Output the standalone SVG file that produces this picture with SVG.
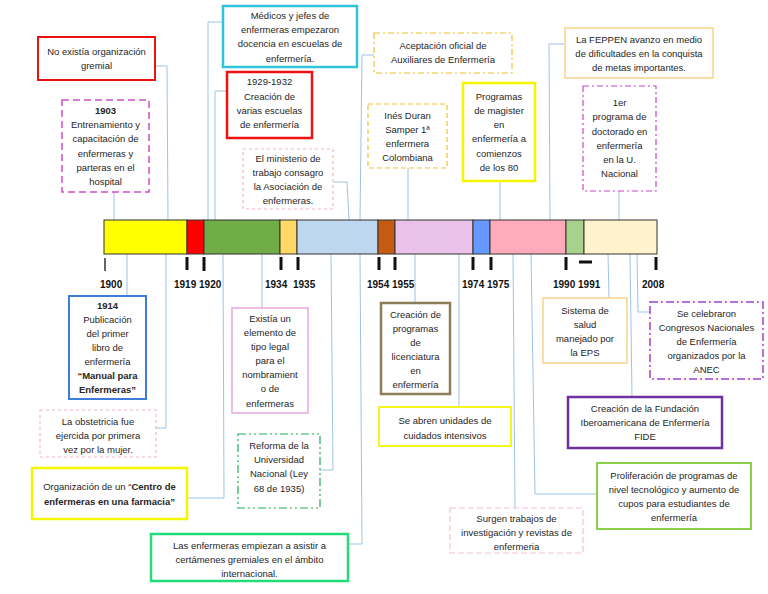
<svg xmlns="http://www.w3.org/2000/svg" width="768" height="594" viewBox="0 0 768 594">
<style>
text{font-family:"Liberation Sans",Arial,sans-serif;font-size:9.5px;fill:#262626;text-anchor:middle}
.b{font-weight:bold}
.yr{font-weight:bold;font-size:10px;fill:#111;text-anchor:start}
.box{fill:#fff}
.con{fill:none;stroke:#9DC3E6;stroke-width:1}
.tick{stroke:#111;stroke-width:3}
.seg{stroke:#333;stroke-width:1}
</style>
<rect width="768" height="594" fill="#fff"/>

<g id="connectors">
<path class="con" d="M114,192V220"/>
<path class="con" d="M155,66H167L168,220"/>
<path class="con" d="M223,22H208V220"/>
<path class="con" d="M227,91H215V220"/>
<path class="con" d="M333,182H347L349,220"/>
<path class="con" d="M374,55H362L360,220"/>
<path class="con" d="M408,168V220"/>
<path class="con" d="M500,181V220"/>
<path class="con" d="M565,44H549L550,220"/>
<path class="con" d="M619,191V220"/>
<path class="con" d="M127,254V296"/>
<path class="con" d="M166,254V428H156"/>
<path class="con" d="M223,254L224,498H187"/>
<path class="con" d="M262,254V308"/>
<path class="con" d="M331,254L333,470H320"/>
<path class="con" d="M360,254L362,544H348"/>
<path class="con" d="M415,254V303"/>
<path class="con" d="M459,254V407"/>
<path class="con" d="M513,254L515,508"/>
<path class="con" d="M531,254L535,494H597"/>
<path class="con" d="M608,254L609,298"/>
<path class="con" d="M630,254L632,397"/>
<path class="con" d="M637,254L638,312H650"/>
</g>

<g id="timeline">
<rect class="seg" x="104" y="220" width="83" height="34" fill="#FFFF00"/>
<rect class="seg" x="187" y="220" width="17" height="34" fill="#FF0000"/>
<rect class="seg" x="204" y="220" width="76" height="34" fill="#70AD47"/>
<rect class="seg" x="280" y="220" width="17" height="34" fill="#FFD966"/>
<rect class="seg" x="297" y="220" width="81" height="34" fill="#BDD7EE"/>
<rect class="seg" x="378" y="220" width="17" height="34" fill="#C55A11"/>
<rect class="seg" x="395" y="220" width="78" height="34" fill="#EAC1E8"/>
<rect class="seg" x="473" y="220" width="17" height="34" fill="#6699FF"/>
<rect class="seg" x="490" y="220" width="76" height="34" fill="#FFABBC"/>
<rect class="seg" x="566" y="220" width="18" height="34" fill="#A9D18E"/>
<rect class="seg" x="584" y="220" width="73" height="34" fill="#FFF2CC"/>
<path stroke="#333" stroke-width="1.5" d="M105,258V271"/>
<path class="tick" d="M187,257V270M204,257V271M281,257V270M298,257V270M379,257V270M395,257V270M473,257V270M491,257V270M566,257V270M656,257V270M579,262H592"/>
<text class="yr" x="100" y="288">1900</text>
<text class="yr" x="174" y="288">1919 1920</text>
<text class="yr" x="265" y="288">1934</text>
<text class="yr" x="293" y="288">1935</text>
<text class="yr" x="367" y="288">1954 1955</text>
<text class="yr" x="462" y="288">1974 1975</text>
<text class="yr" x="553" y="288">1990  1991</text>
<text class="yr" x="642" y="288">2008</text>
</g>

<g id="n1"><rect class="box" x="38" y="37" width="117" height="43" stroke="#EE1111" stroke-width="2"/>
<text x="96.5" y="55">No existía organización</text><text x="96.5" y="69">gremial</text></g>

<g id="n2"><rect class="box" x="62" y="100" width="87" height="92" stroke="#D04FC8" stroke-width="1.5" stroke-dasharray="7,4"/>
<text class="b" x="105.5" y="114">1903</text><text x="105.5" y="128">Entrenamiento y</text><text x="105.5" y="142">capacitación de</text><text x="105.5" y="157">enfermeras y</text><text x="105.5" y="171">parteras en el</text><text x="105.5" y="185">hospital</text></g>

<g id="n3"><rect class="box" x="223" y="6" width="134" height="61" stroke="#2EC4DA" stroke-width="2.5"/>
<text x="290" y="19">Médicos y jefes de</text><text x="290" y="33">enfermeras empezaron</text><text x="290" y="47">docencia en escuelas de</text><text x="290" y="62">enfermería.</text></g>

<g id="n4"><rect class="box" x="227" y="72" width="85" height="66" stroke="#EE1111" stroke-width="2.5"/>
<text x="269.5" y="85">1929-1932</text><text x="269.5" y="100">Creación de</text><text x="269.5" y="114">varias escuelas</text><text x="269.5" y="128">de enfermería</text></g>

<g id="n5"><rect class="box" x="243" y="149" width="90" height="60" stroke="#F4B6C6" stroke-width="1.2" stroke-dasharray="3,3"/>
<text x="288" y="162">El ministerio de</text><text x="288" y="176">trabajo consagro</text><text x="288" y="190">la Asociación de</text><text x="288" y="204">enfermeras.</text></g>

<g id="n6"><rect class="box" x="374" y="33" width="138" height="40" stroke="#F0C030" stroke-width="1.2" stroke-dasharray="6,3,2,3"/>
<text x="443" y="49">Aceptación oficial de</text><text x="443" y="63">Auxiliares de Enfermería</text></g>

<g id="n7"><rect class="box" x="368" y="104" width="79" height="64" stroke="#F0C030" stroke-width="1.2" stroke-dasharray="5,3"/>
<text x="407.5" y="119">Inés Duran</text><text x="407.5" y="133">Samper 1ª</text><text x="407.5" y="147">enfermera</text><text x="407.5" y="161">Colombiana</text></g>

<g id="n8"><rect class="box" x="463" y="83" width="72" height="98" stroke="#F5F500" stroke-width="2.5"/>
<text x="499" y="100">Programas</text><text x="499" y="114">de magister</text><text x="499" y="128">en</text><text x="499" y="142">enfermería a</text><text x="499" y="157">comienzos</text><text x="499" y="171">de los 80</text></g>

<g id="n9"><rect class="box" x="565" y="28" width="148" height="50" stroke="#F9D38A" stroke-width="1.5"/>
<text x="639" y="43">La FEPPEN avanzo en medio</text><text x="639" y="57">de dificultades en la conquista</text><text x="639" y="71">de metas importantes.</text></g>

<g id="n10"><rect class="box" x="583" y="86" width="73" height="105" stroke="#CC44CC" stroke-width="1.2" stroke-dasharray="6,3,2,3"/>
<text x="619.5" y="106">1er</text><text x="619.5" y="120">programa de</text><text x="619.5" y="135">doctorado en</text><text x="619.5" y="149">enfermería</text><text x="619.5" y="163">en la U.</text><text x="619.5" y="177">Nacional</text></g>

<g id="n11"><rect class="box" x="69" y="296" width="77" height="103" stroke="#3B7DD8" stroke-width="2"/>
<text class="b" x="107.5" y="309">1914</text><text x="107.5" y="323">Publicación</text><text x="107.5" y="337">del primer</text><text x="107.5" y="351">libro de</text><text x="107.5" y="365">enfermería</text><text class="b" x="107.5" y="379">“Manual para</text><text class="b" x="107.5" y="393">Enfermeras”</text></g>

<g id="n12"><rect class="box" x="40" y="410" width="116" height="47" stroke="#F4B6C6" stroke-width="1.2" stroke-dasharray="3,3"/>
<text x="98" y="425">La obstetricia fue</text><text x="98" y="439">ejercida por primera</text><text x="98" y="453">vez por la mujer.</text></g>

<g id="n13"><rect class="box" x="32" y="468" width="155" height="51" stroke="#F5F500" stroke-width="2.5"/>
<text x="109.5" y="490">Organización de un “<tspan class="b">Centro de</tspan></text><text class="b" x="109.5" y="505">enfermeras en una farmacia”</text></g>

<g id="n14"><rect class="box" x="232" y="308" width="76" height="105" stroke="#E8A8E0" stroke-width="1.5"/>
<text x="270" y="322">Existía un</text><text x="270" y="336">elemento de</text><text x="270" y="350">tipo legal</text><text x="270" y="364">para el</text><text x="270" y="378">nombramient</text><text x="270" y="392">o de</text><text x="270" y="407">enfermeras</text></g>

<g id="n15"><rect class="box" x="238" y="434" width="82" height="74" stroke="#22AA55" stroke-width="1.2" stroke-dasharray="8,3,2,3,2,3"/>
<text x="279" y="449">Reforma de la</text><text x="279" y="463">Universidad</text><text x="279" y="477">Nacional (Ley</text><text x="279" y="492">68 de 1935)</text></g>

<g id="n16"><rect class="box" x="151" y="534" width="197" height="47" stroke="#22DD77" stroke-width="2.5"/>
<text x="249.5" y="549">Las enfermeras empiezan a asistir a</text><text x="249.5" y="563">certámenes gremiales en el ámbito</text><text x="249.5" y="577">internacional.</text></g>

<g id="n17"><rect class="box" x="381" y="303" width="69" height="91" stroke="#8C7E56" stroke-width="2.5"/>
<text x="415.5" y="318">Creación de</text><text x="415.5" y="332">programas</text><text x="415.5" y="346">de</text><text x="415.5" y="360">licenciatura</text><text x="415.5" y="374">en</text><text x="415.5" y="388">enfermería</text></g>

<g id="n18"><rect class="box" x="379" y="407" width="132" height="39" stroke="#F5F520" stroke-width="2"/>
<text x="445" y="424">Se abren unidades de</text><text x="445" y="439">cuidados intensivos</text></g>

<g id="n19"><rect class="box" x="450" y="508" width="133" height="45" stroke="#F4C0D8" stroke-width="1.2" stroke-dasharray="6,3"/>
<text x="516.5" y="522">Surgen trabajos de</text><text x="516.5" y="536">investigación y revistas de</text><text x="516.5" y="550">enfermeria</text></g>

<g id="n20"><rect class="box" x="597" y="463" width="154" height="66" stroke="#8BD048" stroke-width="2"/>
<text x="674" y="479">Proliferación de programas  de</text><text x="674" y="493">nivel tecnológico y aumento de</text><text x="674" y="507">cupos para estudiantes de</text><text x="674" y="521">enfermería</text></g>

<g id="n21"><rect class="box" x="543" y="298" width="84" height="65" stroke="#F9D38A" stroke-width="1.5"/>
<text x="585" y="314">Sistema de</text><text x="585" y="328">salud</text><text x="585" y="342">manejado por</text><text x="585" y="356">la EPS</text></g>

<g id="n22"><rect class="box" x="650" y="302" width="113" height="77" stroke="#A040D0" stroke-width="1.5" stroke-dasharray="8,3,2,3"/>
<text x="706.5" y="317">Se celebraron</text><text x="706.5" y="331">Congresos Nacionales</text><text x="706.5" y="345">de Enfermería</text><text x="706.5" y="359">organizados por la</text><text x="706.5" y="373">ANEC</text></g>

<g id="n23"><rect class="box" x="568" y="397" width="154" height="51" stroke="#7030A0" stroke-width="2.5"/>
<text x="645" y="412">Creación de la Fundación</text><text x="645" y="426">Iberoamericana de Enfermería</text><text x="645" y="440">FIDE</text></g>
</svg>
